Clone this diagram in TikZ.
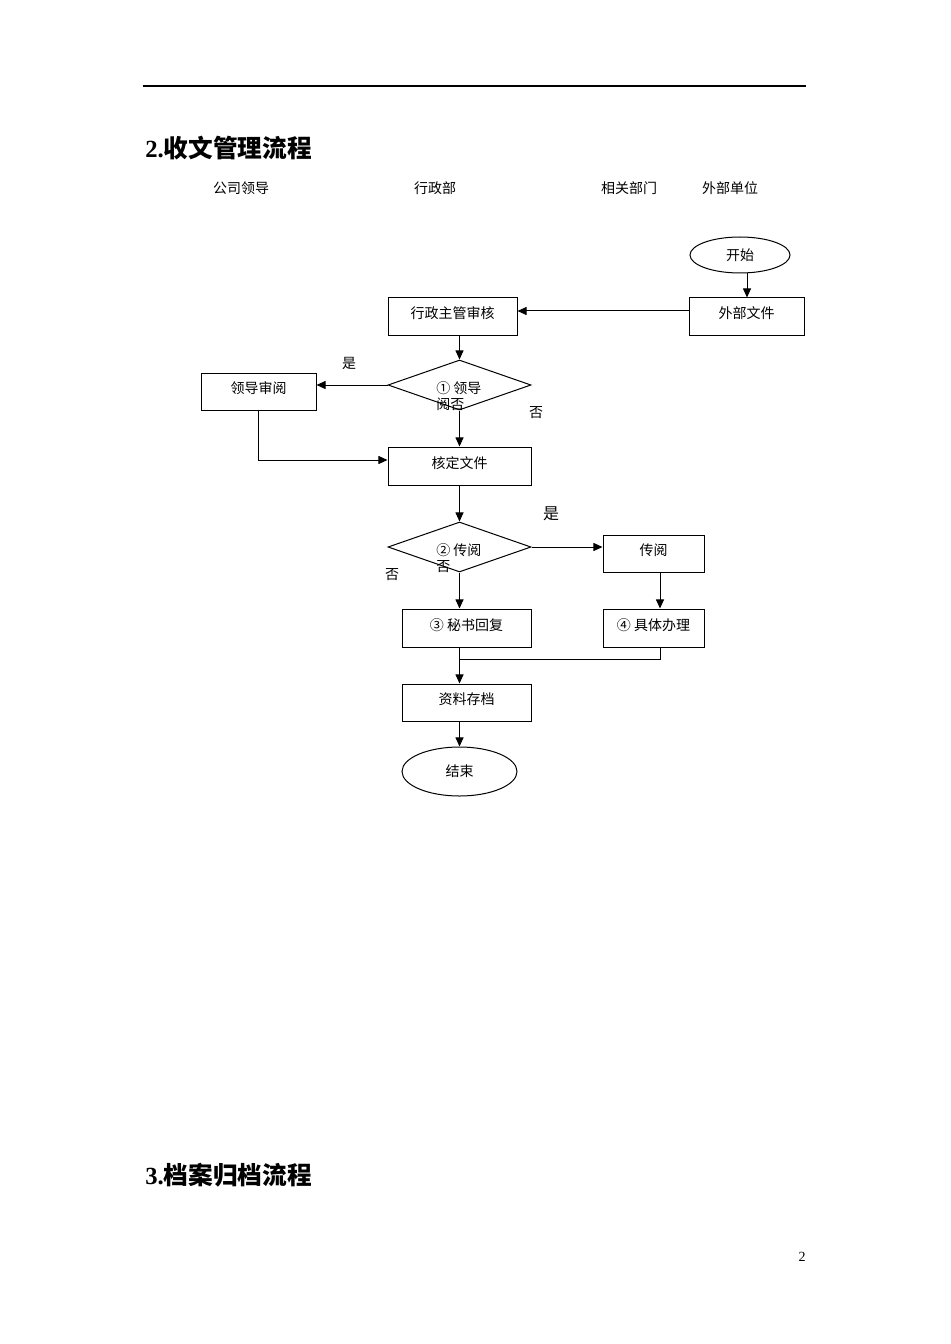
\documentclass[tikz,border=0pt]{standalone}
\usepackage{fontspec}
\setmainfont{Liberation Serif}
\newfontfamily\cjk{Noto Sans CJK SC}
\usetikzlibrary{shapes.geometric,arrows.meta,calc}
\newcommand\cjkt{\cjk\fontsize{10.5pt}{12pt}\selectfont}
\tikzset{
  x=0.75pt, y=-0.75pt,
  ln/.style={line width=0.75pt},
  arr/.style={ln, -{Triangle[length=6.8pt,width=6pt]}},
  procbox/.style={draw, ln, rectangle, inner sep=0pt, font=\cjkt, text height=0.8em, text depth=0.5em},
  term/.style={draw, ln, ellipse, inner sep=0pt, font=\cjkt},
  decide/.style={draw, ln, diamond, inner sep=0pt},
  lbl/.style={inner sep=0pt, font=\cjkt},
  title/.style={inner sep=0pt, anchor=west, font=\fontsize{18.5pt}{22pt}\selectfont\bfseries},
}
\begin{document}
\begin{tikzpicture}
\useasboundingbox (0,0) rectangle (950,1344);
% header rule
\coordinate (r1) at (143,86);
\coordinate (r2) at (806,86);
\draw[line width=0.9pt] (r1) -- (r2);
% titles
\node[title] (t2) at (145,148) {2.{\cjk\bfseries 收文管理流程}};
\node[title] (t3) at (145,1175) {3.{\cjk\bfseries 档案归档流程}};
% column headers
\node[lbl] (h1) at (241,188) {公司领导};
\node[lbl] (h2) at (435,188) {行政部};
\node[lbl] (h3) at (629,188) {相关部门};
\node[lbl] (h4) at (730,188) {外部单位};
% page number
\node[inner sep=0pt, font=\fontsize{10.5pt}{12pt}\selectfont] (pg) at (802,1257) {2};

% nodes
\node[term, minimum width=100*0.75pt, minimum height=36*0.75pt] (start) at (740,255) {开始};
\node[procbox, minimum width=115*0.75pt, minimum height=37*0.75pt] (waibu) at (746.5,316.5) {外部文件};
\node[procbox, minimum width=129*0.75pt, minimum height=37*0.75pt] (xz) at (452.5,316.5) {行政主管审核};
\node[decide, minimum width=143*0.75pt, minimum height=50*0.75pt] (d1) at (459.5,385) {};
\node[procbox, minimum width=115*0.75pt, minimum height=37*0.75pt] (ld) at (258.5,391.5) {领导审阅};
\node[procbox, minimum width=143*0.75pt, minimum height=38*0.75pt] (hd) at (459.5,466) {核定文件};
\node[decide, minimum width=143*0.75pt, minimum height=50*0.75pt] (d2) at (459.5,547) {};
\node[procbox, minimum width=101*0.75pt, minimum height=37*0.75pt] (cy) at (653.5,553.5) {传阅};
\node[procbox, minimum width=129*0.75pt, minimum height=38*0.75pt] (ms) at (466.5,628) {③ 秘书回复};
\node[procbox, minimum width=101*0.75pt, minimum height=38*0.75pt] (jt) at (653.5,628) {④ 具体办理};
\node[procbox, minimum width=129*0.75pt, minimum height=37*0.75pt] (zl) at (466.5,702.5) {资料存档};
\node[term, minimum width=115*0.75pt, minimum height=49*0.75pt] (end) at (459.5,771.5) {结束};

% diamond texts
\node[lbl, anchor=west, align=left, font=\cjkt] (d1t) at (436,396) {① 领导\\阅否};
\node[lbl, anchor=west, align=left, font=\cjkt] (d2t) at (436,558) {② 传阅\\否};

% branch labels
\node[lbl] (y1) at (349,363) {是};
\node[lbl] (n1) at (536,413) {否};
\node[lbl, font=\cjk\fontsize{12pt}{14pt}\selectfont] (y2) at (551,514) {是};
\node[lbl] (n2) at (392,575) {否};

% connectors
\draw[arr] ($(start.south)+(7,0)$) -- ($(waibu.north)+(0.5,0)$);
\draw[arr] ($(waibu.west)+(0,-5.5)$) -- ($(xz.east)+(0,-5.5)$);
\draw[arr] (d1.north |- xz.south) -- (d1.north);
\draw[arr] (d1.west) -- (d1.west -| ld.east);
\draw[arr] (d1.south) -- (hd.north);
\coordinate (c1) at ($(hd.west)+(0,-6)$);
\draw[arr] (ld.south) |- (c1);
\draw[arr] (hd.south) -- (d2.north);
\draw[arr] (d2.east) -- (d2.east -| cy.west);
\draw[arr] ($(cy.south)+(6.5,0)$) -- ($(jt.north)+(6.5,0)$);
\draw[arr] (d2.south) -- (d2.south |- ms.north);
\coordinate (m) at (459.5,659);
\draw[ln] ($(jt.south)+(6.5,0)$) |- (m);
\draw[arr] (d2.south |- ms.south) -- (d2.south |- zl.north);
\draw[arr] (d2.south |- zl.south) -- (end.north);
\end{tikzpicture}
\end{document}
